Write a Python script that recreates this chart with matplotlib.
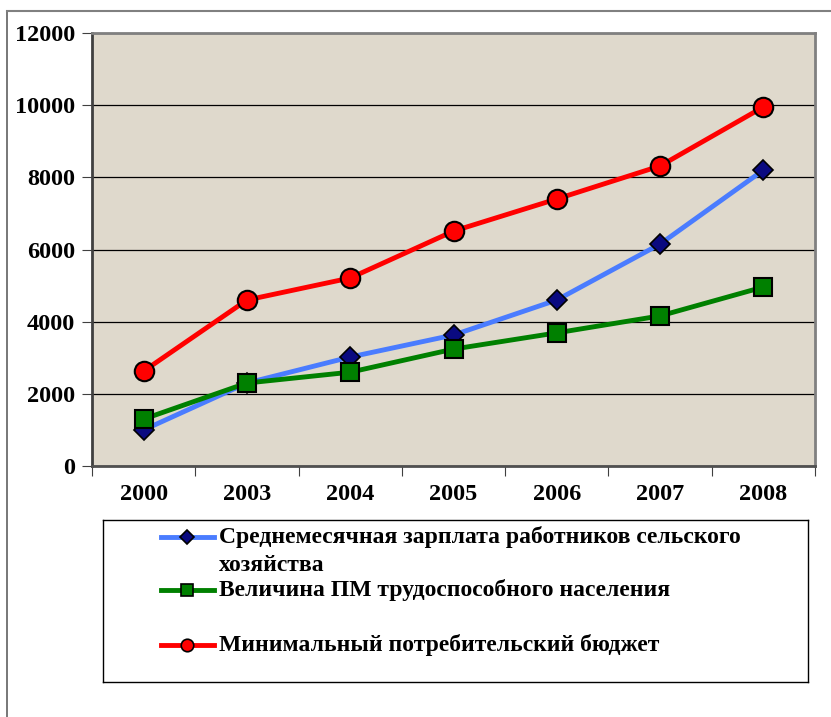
import numpy as np
import matplotlib
matplotlib.use('Agg')
import matplotlib.pyplot as plt
from matplotlib.lines import Line2D

years = ['2000', '2003', '2004', '2005', '2006', '2007', '2008']
salary = [1000, 2300, 3020, 3630, 4600, 6150, 8200]
subsistence = [1300, 2300, 2600, 3240, 3690, 4160, 4960]
budget = [2630, 4600, 5210, 6510, 7400, 8315, 9950]
names = ['Среднемесячная зарплата работников сельского\nхозяйства',
         'Величина ПМ трудоспособного населения',
         'Минимальный потребительский бюджет']

plt.rcParams['font.family'] = ['Liberation Serif', 'DejaVu Serif']
plt.rcParams['font.weight'] = 'bold'

fig = plt.figure(figsize=(8.31, 7.17), dpi=100)
W, H = 831, 717
ax = fig.add_axes([92 / W, 1 - 466 / H, (815 - 92) / W, (466 - 33) / H])
ax.set_facecolor('#dfd9cc')

x = np.arange(len(years))
ax.plot(x, salary, color='#4a7cff', lw=3.5, marker='D', ms=10, mfc='#0a0a80', mec='black', mew=1.2, zorder=3)
ax.plot(x, subsistence, color='#008000', lw=3.5, marker='s', ms=13, mfc='#008000', mec='black', mew=1.5, zorder=4)
ax.plot(x, budget, color='#ff0000', lw=3.5, marker='o', ms=14, mfc='#ff0000', mec='black', mew=1.5, zorder=5)

ax.set_xlim(-0.5, len(years) - 0.5)
ax.set_ylim(0, 12000)
ax.set_yticks(np.arange(0, 12001, 2000))
ax.set_yticklabels([str(v) for v in range(0, 12001, 2000)], fontsize=17.5, fontweight='bold')
ax.yaxis.grid(True, color='black', lw=0.9)
ax.set_axisbelow(True)

ax.set_xticks(np.arange(-0.5, len(years), 1.0))
ax.set_xticklabels([])
ax.set_xticks(x, minor=True)
ax.set_xticklabels(years, minor=True, fontsize=17.5, fontweight='bold')
ax.tick_params(axis='x', which='minor', length=0, pad=13)
ax.tick_params(axis='x', which='major', length=7, direction='out', color='#404040')
ax.tick_params(axis='y', length=7, direction='out', color='#404040', pad=5)

for s in ax.spines.values():
    s.set_color('#808080')
    s.set_linewidth(2)
ax.spines['left'].set_color('#404040')
ax.spines['bottom'].set_color('#505050')

# figure border
fig.add_artist(Line2D([7 / W, 7 / W], [0, 1 - 11 / H], color='#606060', lw=1.2))
fig.add_artist(Line2D([7 / W, 1], [1 - 11 / H, 1 - 11 / H], color='#808080', lw=1.5))

# legend box
lg = fig.add_axes([103 / W, 1 - 682 / H, (808 - 103) / W, (682 - 520) / H])
lg.set_xlim(103, 808)
lg.set_ylim(682, 520)
lg.set_xticks([])
lg.set_yticks([])
for s in lg.spines.values():
    s.set_color('black')
    s.set_linewidth(1)

styles = [('#4a7cff', 'D', '#0a0a80', 7), ('#008000', 's', '#008000', 8), ('#ff0000', 'o', '#ff0000', 9)]
rows = [537, 590, 645]
for (c, m, fc, ms), yy, name in zip(styles, rows, names):
    lg.plot([161, 214], [yy, yy], color=c, lw=3.5)
    lg.plot([187.5], [yy], marker=m, ms=ms, mfc=fc, mec='black', mew=1.2)
    lg.text(219, yy - 11, name, fontsize=17, fontweight='bold', va='top', ha='left', linespacing=1.45)

fig.savefig('out.png', dpi=100)
